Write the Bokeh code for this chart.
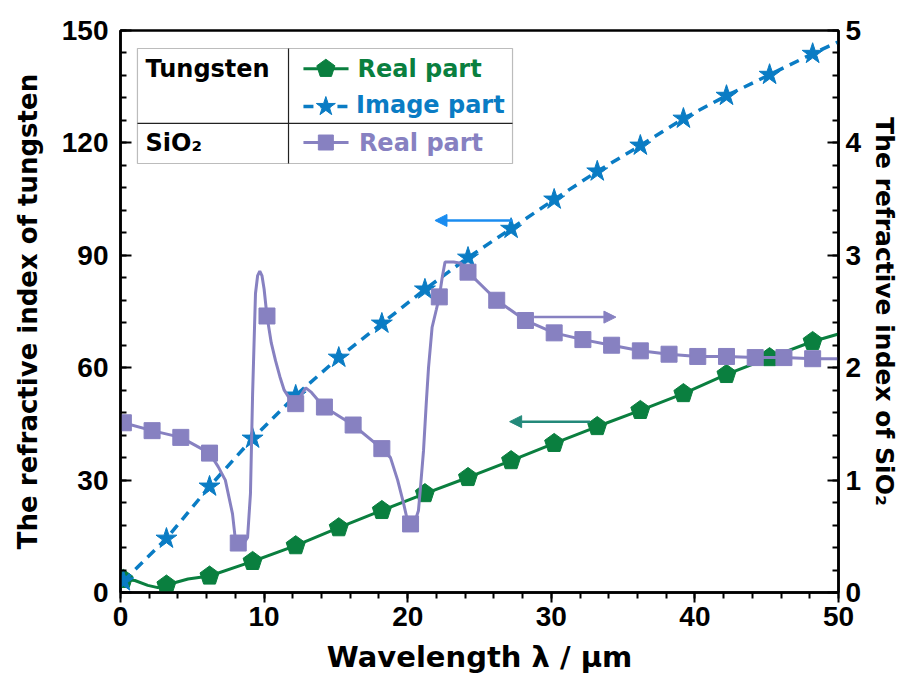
import math
from bokeh.plotting import figure
from bokeh.models import (Range1d, LinearAxis, Label, BoxAnnotation, Arrow,
                          NormalHead, SingleIntervalTicker)
from bokeh.embed import file_html
from bokeh.resources import INLINE

# ---------------- data ----------------
# Tungsten, real part (left axis)
w_real_x = [0.2, 3.2, 6.2, 9.2, 12.2, 15.2, 18.2, 21.2, 24.2, 27.2, 30.2, 33.2,
            36.2, 39.2, 42.2, 45.2, 48.2]
w_real_y = [3.5, 2.0, 4.4, 8.3, 12.5, 17.3, 21.9, 26.4, 30.7, 35.2, 39.8, 44.3,
            48.6, 53.1, 58.2, 62.7, 67.0]
w_real_line_x = [0.2, 1.0, 1.9, 2.6, 3.2, 4.7, 6.2, 9.2, 12.2, 15.2, 18.2, 21.2,
                 24.2, 27.2, 30.2, 33.2, 36.2, 39.2, 42.2, 45.2, 48.2, 50.0]
w_real_line_y = [3.5, 3.2, 1.9, 1.3, 2.0, 3.6, 4.4, 8.3, 12.5, 17.3, 21.9, 26.4,
                 30.7, 35.2, 39.8, 44.3, 48.6, 53.1, 58.2, 62.7, 67.0, 69.0]

# Tungsten, imaginary ("image") part (left axis)
w_imag_x = [0.2, 3.2, 6.2, 9.2, 12.2, 15.2, 18.2, 21.2, 24.2, 27.2, 30.2, 33.2,
            36.2, 39.2, 42.2, 45.2, 48.2]
w_imag_y = [3.0, 14.4, 28.3, 41.1, 52.6, 62.7, 71.8, 80.9, 89.4, 97.1, 104.9,
            112.4, 119.3, 126.5, 132.6, 138.2, 143.8]
w_imag_line_x = w_imag_x + [50.0]
w_imag_line_y = w_imag_y + [147.0]

# SiO2, real part (right axis)
s_real_x = [0.2, 2.2, 4.2, 6.2, 8.2, 10.2, 12.2, 14.2, 16.2, 18.2, 20.2, 22.2,
            24.2, 26.2, 28.2, 30.2, 32.2, 34.2, 36.2, 38.2, 40.2, 42.2, 44.2,
            46.2, 48.2]
s_real_y = [1.51, 1.44, 1.38, 1.24, 0.44, 2.46, 1.68, 1.65, 1.49, 1.28, 0.61,
            2.63, 2.85, 2.60, 2.42, 2.31, 2.25, 2.20, 2.15, 2.12, 2.10, 2.10,
            2.09, 2.09, 2.08]
s_line_x = [0.2, 2.2, 4.2, 6.2, 6.8, 7.3, 7.8, 8.0, 8.2, 8.6, 8.85, 9.05, 9.2,
            9.4, 9.55, 9.7, 9.85, 10.0, 10.2, 10.5, 10.8, 11.1, 11.4, 11.8, 12.2,
            12.6, 12.9, 13.3, 13.7, 14.2, 16.2, 18.2, 18.8, 19.3, 19.7, 20.0,
            20.2, 20.5, 20.75, 20.9, 21.1, 21.3, 21.45, 21.7, 22.0, 22.2, 22.4,
            22.6, 23.2, 23.7, 24.2, 26.2, 28.2, 30.2, 32.2, 34.2, 36.2, 38.2,
            40.2, 42.2, 44.2, 46.2, 48.2, 50.0]
s_line_y = [1.51, 1.44, 1.38, 1.24, 1.12, 1.00, 0.70, 0.47, 0.44, 0.44, 0.49,
            0.88, 1.77, 2.66, 2.82, 2.86, 2.82, 2.70, 2.46, 2.22, 2.06, 1.92,
            1.80, 1.72, 1.68, 1.76, 1.82, 1.78, 1.72, 1.65, 1.49, 1.28, 1.20,
            1.00, 0.80, 0.63, 0.61, 0.63, 0.73, 0.95, 1.26, 1.70, 2.00, 2.36,
            2.52, 2.63, 2.80, 2.94, 2.94, 2.93, 2.85, 2.60, 2.42, 2.31, 2.25,
            2.20, 2.15, 2.12, 2.10, 2.10, 2.09, 2.09, 2.08, 2.08]

x_ticks_interval = 10
y_left_interval = 30
y_right_interval = 1

# ---------------- styling ----------------
GREEN = "#0a7f3f"
BLUE = "#0a7cc4"
PURPLE = "#8781c1"
TICK_FONT = "Liberation Sans"
TITLE_FONT = "DejaVu Sans"

W, H = 903, 679
FL, FR, FT, FB = 120, 838, 30, 592          # frame edges in pixels
p = figure(width=W, height=H, output_backend="svg", toolbar_location=None,
           x_range=Range1d(0, 50), y_range=Range1d(0, 150),
           min_border_left=FL, min_border_right=W - FR, min_border_top=FT,
           min_border_bottom=H - FB)
p.extra_y_ranges = {"right": Range1d(0, 5)}
p.xgrid.visible = False
p.ygrid.visible = False
p.outline_line_color = "black"
p.outline_line_width = 2.5
p.background_fill_color = "white"
p.border_fill_color = "white"

# pixel scale of the frame (used only for shaping the pentagon markers)
PX_X = (FR - FL) / 50.0
PX_Y = (FB - FT) / 150.0

def style_axis(ax, inward=True):
    ax.axis_line_width = 2.5
    ax.axis_line_color = "black"
    ax.major_tick_line_width = 2
    ax.minor_tick_line_width = 2
    if inward:
        ax.major_tick_in = 11
        ax.major_tick_out = 0
        ax.minor_tick_in = 6
        ax.minor_tick_out = 0
    else:
        ax.major_tick_in = 0
        ax.major_tick_out = 10
        ax.minor_tick_in = 0
        ax.minor_tick_out = 6
    ax.major_label_text_font = TICK_FONT
    ax.major_label_text_font_style = "bold"
    ax.major_label_text_font_size = "28px"
    ax.major_label_text_color = "black"
    ax.axis_label_text_font = TITLE_FONT
    ax.axis_label_text_font_style = "bold"
    ax.axis_label_text_color = "black"

xa = p.xaxis[0]
xa.ticker = SingleIntervalTicker(interval=x_ticks_interval, num_minor_ticks=5)
style_axis(xa, inward=False)
xa.axis_label = "Wavelength λ / μm"
xa.axis_label_text_font_size = "29px"
xa.major_label_standoff = 4
xa.axis_label_standoff = 11

ya = p.yaxis[0]
ya.ticker = SingleIntervalTicker(interval=y_left_interval, num_minor_ticks=5)
style_axis(ya)
ya.axis_label = "The refractive index of tungsten"
ya.axis_label_text_font_size = "26px"
ya.major_label_standoff = 12
ya.axis_label_standoff = 16

yr = LinearAxis(y_range_name="right",
                ticker=SingleIntervalTicker(interval=y_right_interval, num_minor_ticks=5))
style_axis(yr)
yr.axis_label = "The refractive index of SiO₂"
yr.axis_label_text_font_size = "25px"
yr.major_label_standoff = 7
yr.axis_label_standoff = 6
p.add_layout(yr, "right")

# ---------------- series ----------------
def pentagons(xs, ys, color, r=10.0):
    pxs, pys = [], []
    for cx, cy in zip(xs, ys):
        ang = [math.radians(90 + 72 * k) for k in range(5)]
        pxs.append([cx + r * math.cos(a) / PX_X for a in ang])
        pys.append([cy + r * math.sin(a) / PX_Y for a in ang])
    p.patches(pxs, pys, fill_color=color, line_color=color, line_width=1)

# tungsten real
p.line(w_real_line_x, w_real_line_y, line_color=GREEN, line_width=3)
pentagons(w_real_x, w_real_y, GREEN)

# tungsten imaginary
p.line(w_imag_line_x, w_imag_line_y, line_color=BLUE, line_width=3.5,
       line_dash="10 7")
p.scatter(w_imag_x, w_imag_y, marker="star", size=22, fill_color=BLUE,
          line_color=BLUE)

# SiO2 real
p.line(s_line_x, s_line_y, y_range_name="right", line_color=PURPLE, line_width=3)
p.scatter(s_real_x, s_real_y, y_range_name="right", marker="square", size=16,
          fill_color=PURPLE, line_color=PURPLE)

# ---------------- arrows ----------------
p.add_layout(Arrow(end=NormalHead(size=12, fill_color="#1a8cf0", line_color="#1a8cf0"),
                   x_start=27.3, y_start=99.3, x_end=21.9, y_end=99.3,
                   line_color="#1a8cf0", line_width=2.5))
p.add_layout(Arrow(end=NormalHead(size=12, fill_color="#23897a", line_color="#23897a"),
                   x_start=32.7, y_start=45.6, x_end=27.1, y_end=45.6,
                   line_color="#23897a", line_width=2.5))
p.add_layout(Arrow(end=NormalHead(size=12, fill_color=PURPLE, line_color=PURPLE),
                   x_start=28.8, y_start=2.45, x_end=34.5, y_end=2.45,
                   y_range_name="right", line_color=PURPLE, line_width=2.5))

# ---------------- legend table ----------------
p.add_layout(BoxAnnotation(left=1.18, right=27.3, bottom=114.5, top=145.2,
                           fill_alpha=0.0, line_color="#222222", line_width=1.2))
p.segment(x0=[11.7, 1.18], y0=[114.5, 125.2], x1=[11.7, 27.3], y1=[145.2, 125.2],
          line_color="#222222", line_width=1.2)

LEG = 24
def leg_text(x, y, txt, color):
    p.add_layout(Label(x=x, y=y, text=txt, text_color=color,
                       text_font=TITLE_FONT, text_font_style="bold",
                       text_font_size=f"{LEG}px", text_baseline="alphabetic",
                       text_align="left"))

leg_text(1.74, 139.7, "Tungsten", "black")
leg_text(1.74, 120.0, "SiO₂", "black")

p.line([12.74, 15.88], [139.8, 139.8], line_color=GREEN, line_width=3)
pentagons([14.3], [139.8], GREEN, r=9.5)
leg_text(16.5, 139.7, "Real part", GREEN)

p.line([12.74, 15.88], [129.7, 129.7], line_color=BLUE, line_width=3.5,
       line_dash="10 7")
p.scatter([14.3], [129.7], marker="star", size=20, fill_color=BLUE, line_color=BLUE)
leg_text(16.4, 130.0, "Image part", BLUE)

p.line([12.74, 15.88], [120.1, 120.1], line_color=PURPLE, line_width=3)
p.scatter([14.3], [120.1], marker="square", size=15, fill_color=PURPLE,
          line_color=PURPLE)
leg_text(16.6, 120.0, "Real part", PURPLE)

open("out.html", "w").write(file_html(p, INLINE))
